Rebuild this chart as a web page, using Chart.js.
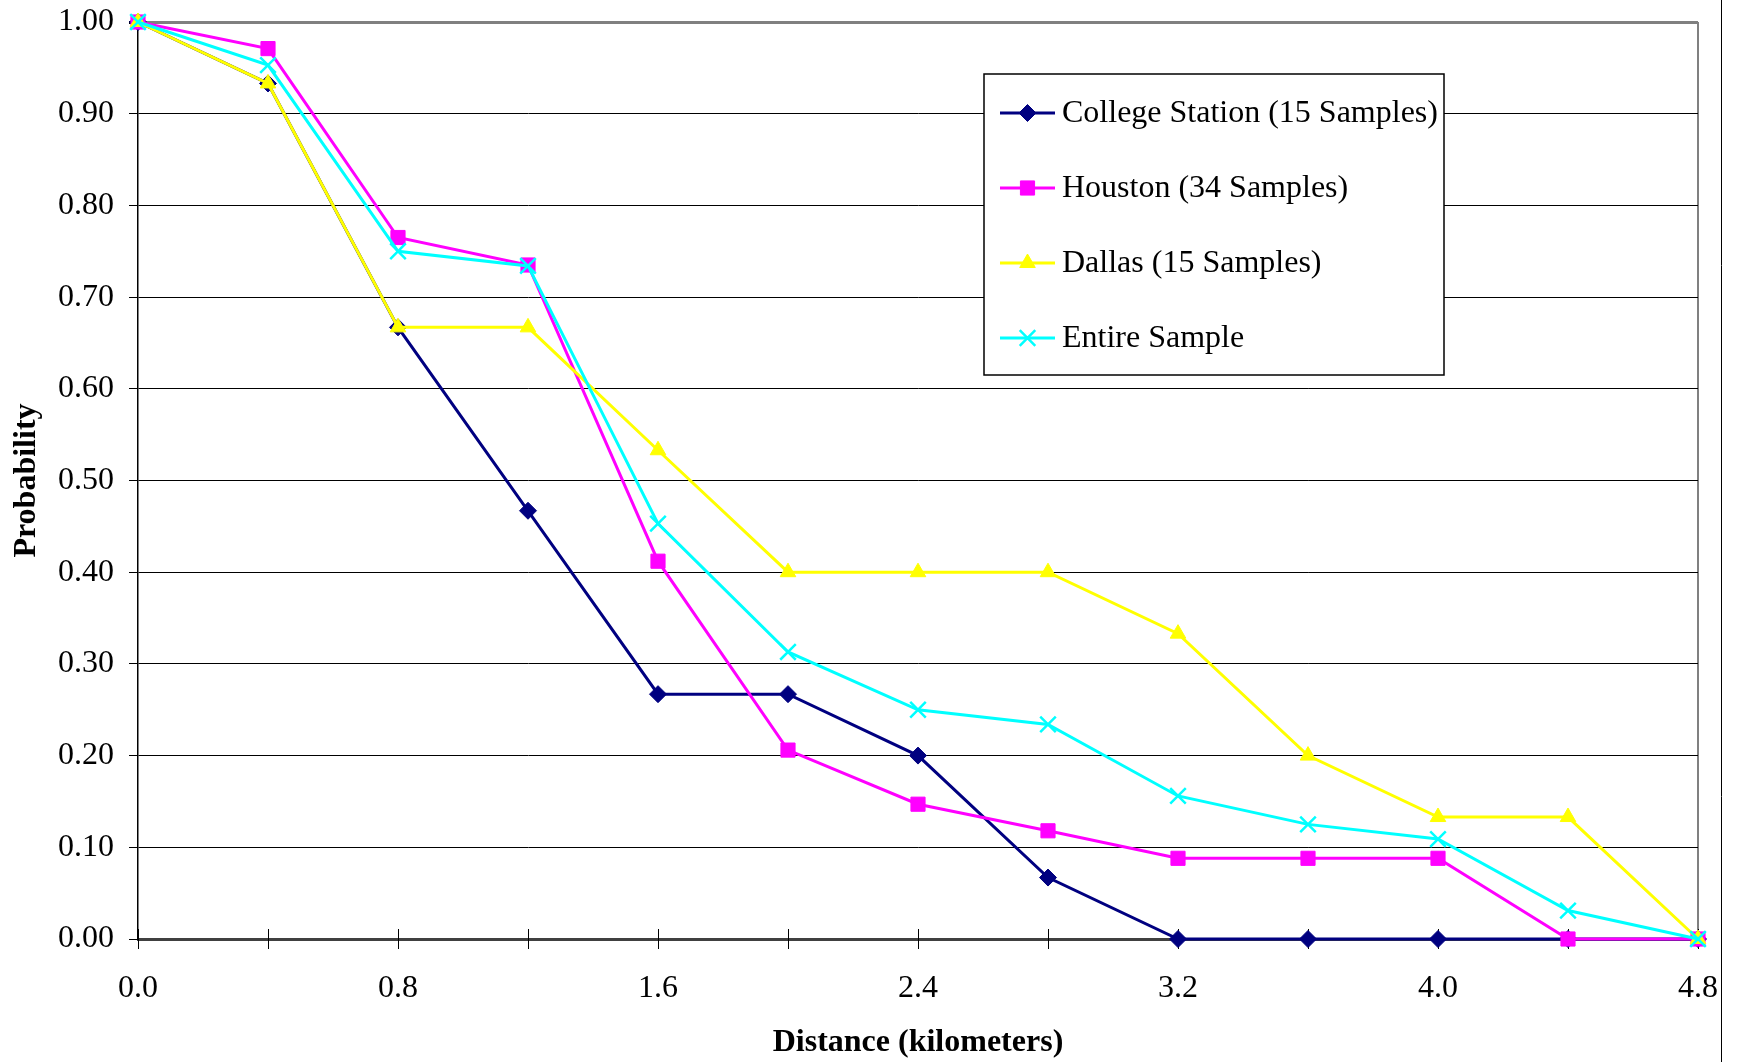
<!DOCTYPE html>
<html>
<head>
<meta charset="utf-8">
<title>Probability vs Distance</title>
<script src="https://cdn.jsdelivr.net/npm/chart.js@4.4.1/dist/chart.umd.min.js"></script>
<style>
  html, body { margin: 0; padding: 0; background: #fff; }
  #wrap { width: 1741px; height: 1062px; position: relative; }
</style>
</head>
<body>
<div id="wrap"><canvas id="probChart" width="1741" height="1062"></canvas></div>
<script>
// ==========================================
// DATA
// ==========================================

// distance (km) of each observation
const distances = [0.0, 0.4, 0.8, 1.2, 1.6, 2.0, 2.4, 2.8, 3.2, 3.6, 4.0, 4.4, 4.8];

const collegeStation = [1.000, 0.933, 0.667, 0.467, 0.267, 0.267, 0.200, 0.067, 0.000, 0.000, 0.000, 0.000, 0.000];
const houston        = [1.000, 0.971, 0.765, 0.735, 0.412, 0.206, 0.147, 0.118, 0.088, 0.088, 0.088, 0.000, 0.000];
const dallas         = [1.000, 0.933, 0.667, 0.667, 0.533, 0.400, 0.400, 0.400, 0.333, 0.200, 0.133, 0.133, 0.000];
const entireSample   = [1.000, 0.953, 0.750, 0.734, 0.453, 0.313, 0.250, 0.234, 0.156, 0.125, 0.109, 0.031, 0.000];

const seriesLabels = ['College Station (15 Samples)', 'Houston (34 Samples)', 'Dallas (15 Samples)', 'Entire Sample'];
const xTickLabels = ['0.0', '0.8', '1.6', '2.4', '3.2', '4.0', '4.8'];
const yTickLabels = ['0.00', '0.10', '0.20', '0.30', '0.40', '0.50', '0.60', '0.70', '0.80', '0.90', '1.00'];

const FONT_FAMILY = "'Liberation Serif', 'Times New Roman', serif";

function toPoints(values) {
    return values.map((v, i) => ({ x: distances[i], y: v }));
}

// ==========================================
// PLUGINS
// ==========================================

// tick marks on the x axis cross the axis line (Excel style)
const crossTicks = {
    id: 'crossTicks',
    beforeDatasetsDraw(chart) {
        const { ctx, chartArea, scales: { x } } = chart;
        ctx.save();
        ctx.strokeStyle = '#000';
        ctx.lineWidth = 1;
        x.ticks.forEach(t => {
            const px = Math.round(x.getPixelForValue(t.value)) + 0.5;
            ctx.beginPath();
            ctx.moveTo(px, chartArea.bottom - 10);
            ctx.lineTo(px, chartArea.bottom + 10);
            ctx.stroke();
        });
        ctx.restore();
    }
};

// boxed legend with line + marker samples
const boxLegend = {
    id: 'boxLegend',
    afterDraw(chart) {
        const ctx = chart.ctx;
        const box = { left: 984, top: 74, width: 460, height: 301 };
        ctx.save();
        ctx.fillStyle = '#fff';
        ctx.fillRect(box.left, box.top, box.width, box.height);
        ctx.strokeStyle = '#000';
        ctx.lineWidth = 1.5;
        ctx.strokeRect(box.left, box.top, box.width, box.height);

        chart.data.datasets.forEach((ds, i) => {
            const y = 113 + i * 75;
            ctx.strokeStyle = ds.borderColor;
            ctx.lineWidth = ds.borderWidth;
            ctx.beginPath();
            ctx.moveTo(1000, y);
            ctx.lineTo(1055, y);
            ctx.stroke();

            ctx.fillStyle = ds.pointBackgroundColor;
            ctx.strokeStyle = ds.pointBorderColor;
            ctx.lineWidth = ds.pointBorderWidth;
            Chart.helpers.drawPoint(ctx, {
                pointStyle: ds.pointStyle,
                radius: ds.pointRadius,
                borderWidth: ds.pointBorderWidth,
                rotation: 0
            }, 1027.5, y);

            ctx.fillStyle = '#000';
            ctx.font = '32px ' + FONT_FAMILY;
            ctx.textAlign = 'left';
            ctx.textBaseline = 'middle';
            ctx.fillText(seriesLabels[i], 1062, y + 1);
        });

        // outer frame line on the right
        ctx.strokeStyle = '#000';
        ctx.lineWidth = 1;
        ctx.beginPath();
        ctx.moveTo(1721.5, 0);
        ctx.lineTo(1721.5, 1062);
        ctx.stroke();
        ctx.restore();
    }
};

// ==========================================
// CHART
// ==========================================

function makeDataset(label, values, color, style, radius, order, pointBorder) {
    return {
        label: label,
        data: toPoints(values),
        borderColor: color,
        backgroundColor: color,
        borderWidth: 3,
        pointStyle: style,
        pointRadius: radius,
        pointHoverRadius: radius,
        pointBackgroundColor: color,
        pointBorderColor: color,
        pointBorderWidth: pointBorder,
        tension: 0,
        clip: false,
        order: order
    };
}

Chart.defaults.font.family = FONT_FAMILY;
Chart.defaults.font.size = 32;
Chart.defaults.color = '#000';

new Chart(document.getElementById('probChart'), {
    type: 'line',
    data: {
        datasets: [
            makeDataset(seriesLabels[0], collegeStation, '#000080', 'rectRot', 8.5, 4, 1),
            makeDataset(seriesLabels[1], houston, '#FF00FF', 'rect', 10, 3, 1),
            makeDataset(seriesLabels[2], dallas, '#FFFF00', 'triangle', 9, 2, 1),
            makeDataset(seriesLabels[3], entireSample, '#00FFFF', 'crossRot', 11, 1, 2.5)
        ]
    },
    options: {
        responsive: false,
        animation: false,
        events: [],
        devicePixelRatio: 1,
        layout: { padding: { top: 22, right: 43, left: 0, bottom: 0 } },
        plugins: {
            legend: { display: false },
            tooltip: { enabled: false }
        },
        scales: {
            x: {
                type: 'linear',
                min: 0,
                max: 4.8,
                afterFit: s => {
                    s.height = 123;
                    s.paddingLeft = 0;
                    s.paddingRight = 0;
                },
                ticks: {
                    stepSize: 0.4,
                    autoSkip: false,
                    maxRotation: 0,
                    padding: 30,
                    callback: v => {
                        const hit = xTickLabels.find(l => Math.abs(parseFloat(l) - v) < 1e-6);
                        return hit || '';
                    }
                },
                grid: {
                    drawTicks: false,
                    lineWidth: 2,
                    color: c => (c.tick && Math.abs(c.tick.value - 4.8) < 1e-6) ? '#808080' : 'rgba(0,0,0,0)'
                },
                border: { display: true, color: '#404040', width: 3 },
                title: {
                    display: true,
                    text: 'Distance (kilometers)',
                    font: { weight: 'bold', size: 32 },
                    padding: { top: 0, bottom: 0 }
                }
            },
            y: {
                min: 0,
                max: 1,
                afterFit: s => {
                    s.width = 138;
                    s.paddingTop = 0;
                    s.paddingBottom = 0;
                },
                ticks: {
                    stepSize: 0.1,
                    padding: 15,
                    callback: v => yTickLabels[Math.round(v * 10)]
                },
                grid: {
                    drawTicks: true,
                    tickLength: 9,
                    tickColor: '#000',
                    lineWidth: c => (c.tick && c.tick.value === 1) ? 3 : 1,
                    color: c => {
                        if (!c.tick) return '#000';
                        if (c.tick.value === 0) return 'rgba(0,0,0,0)';
                        if (c.tick.value === 1) return '#808080';
                        return '#000';
                    }
                },
                border: { display: true, color: '#000', width: 1.5 },
                title: {
                    display: true,
                    text: 'Probability',
                    font: { weight: 'bold', size: 32 },
                    padding: { top: 8, bottom: 0 }
                }
            }
        }
    },
    plugins: [crossTicks, boxLegend]
});
</script>
</body>
</html>
